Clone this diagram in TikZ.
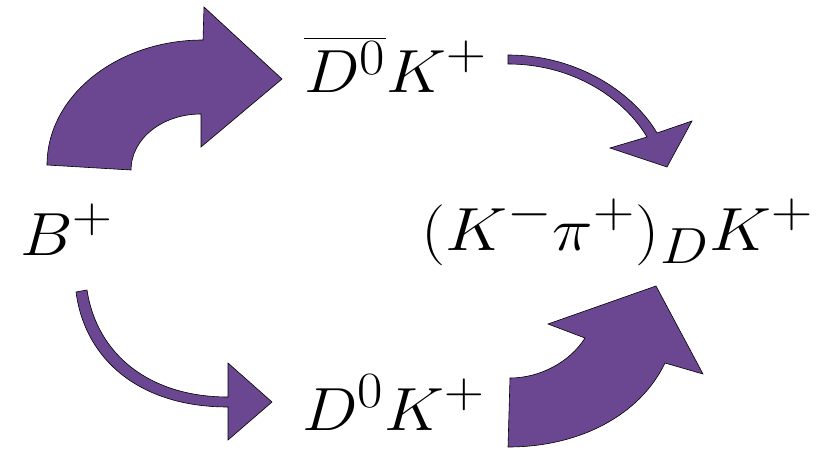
\documentclass[tikz,border=0pt]{standalone}
\definecolor{arrowpurple}{RGB}{107,71,145}
\tikzset{
  blockarrow/.style={fill=arrowpurple, draw=black, line width=0.6pt, line join=miter},
  label/.style={anchor=base west, inner sep=0pt, outer sep=0pt, font=\Huge, scale=2.45, xscale=1.085, transform shape}
}
\begin{document}
\begin{tikzpicture}[x=1pt,y=-1pt]
\useasboundingbox (0,0) rectangle (816,450);
% labels
\node[label] (b) at (20,255) {$B^+$};
\node[label] (dbar) at (304,92) {$\overline{D^0}K^+$};
\node[label, xscale=1.035] (final) at (421,250) {$(K^-\pi^+)_D K^+$};
\node[label] (d) at (302,430) {$D^0K^+$};
% big upper-left arrow
\path[blockarrow] (47,165) .. controls (47,96) and (117,40) .. (203,40)
  -- (204,7) -- (282,79) -- (201,147) -- (201,114)
  .. controls (162,114) and (131,139) .. (131,170) -- cycle;
% thin upper-right arrow
\path[blockarrow] (508,55) .. controls (580,55) and (635,95) .. (657,133)
  -- (692,121) -- (667,167) -- (610,148) -- (647,137)
  .. controls (625,100) and (575,64) .. (508,64) -- cycle;
% thin lower-left arrow
\path[blockarrow] (87,290) -- (76,292) .. controls (85,360) and (140,407) .. (228,407)
  -- (228,440) -- (272,402) -- (228,363) -- (228,397)
  .. controls (150,397) and (97,355) .. (87,290) -- cycle;
% big lower-right arrow
\path[blockarrow] (508,447) -- (510,378) .. controls (540,378) and (570,362) .. (585,338)
  -- (548,324) -- (656,286) -- (703,374) -- (665,363)
  .. controls (640,415) and (580,447) .. (508,447) -- cycle;
\end{tikzpicture}
\end{document}
